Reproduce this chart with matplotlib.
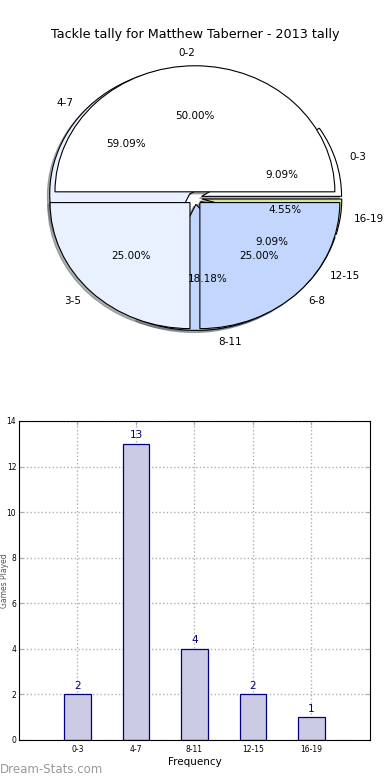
import numpy as np
import matplotlib
matplotlib.use('Agg')
import matplotlib.pyplot as plt

# data
pie_a_labels = ['0-2', '3-5', '6-8']
pie_a_values = [2, 1, 1]
pie_b_labels = ['0-3', '4-7', '8-11', '12-15', '16-19']
pie_b_values = [2, 13, 4, 2, 1]

bar_labels = ['0-3', '4-7', '8-11', '12-15', '16-19']
bar_values = [2, 13, 4, 2, 1]

pie_a_colors = ['#ffffff', '#e9f0ff', '#c3d7fe']
pie_b_colors = ['#ffffff', '#e9f0ff', '#c3d7fe', '#c3d7fe', '#d4e49c']

fig = plt.figure(figsize=(3.9, 7.8), dpi=100)

# pie part (two pies on the same axes, not equal aspect)
ax1 = fig.add_axes([0.0513, 0.544, 0.897, 0.404])
wedge_kw = dict(edgecolor='black', linewidth=0.8)
shadow_kw = dict(ox=-0.012, oy=-0.012, shade=0.6)
ax1.pie(pie_b_values, labels=pie_b_labels, colors=pie_b_colors,
        explode=[0.05] * len(pie_b_values), autopct='%1.2f%%', shadow=shadow_kw,
        wedgeprops=wedge_kw, textprops=dict(fontsize=7.5))
ax1.pie(pie_a_values, labels=pie_a_labels, colors=pie_a_colors,
        explode=[0.05] * len(pie_a_values), autopct='%1.2f%%', shadow=shadow_kw,
        wedgeprops=wedge_kw, textprops=dict(fontsize=7.5))
ax1.set_aspect('auto')
ax1.set_xlim(-1.25, 1.25)
ax1.set_ylim(-1.25, 1.25)
ax1.set_title('Tackle tally for Matthew Taberner - 2013 tally', fontsize=9.2, pad=1)

# bar part
ax2 = fig.add_axes([0.0487, 0.0513, 0.9, 0.409])
x = np.arange(1, len(bar_values) + 1)
bars = ax2.bar(x, bar_values, width=0.45, color='#cbcce3', edgecolor='#000080',
               linewidth=0.9, zorder=2)
for xi, v in zip(x, bar_values):
    ax2.text(xi, v + 0.15, str(v), ha='center', va='bottom', color='#000080', fontsize=7.5)
ax2.set_xlim(0, 6)
ax2.set_ylim(0, 14)
ax2.set_xticks(x)
ax2.set_xticklabels(bar_labels)
ax2.set_yticks(range(0, 15, 2))
ax2.tick_params(labelsize=5.5, direction='in', top=True, right=True, length=3, color='#aaaaaa')
ax2.tick_params(axis='y', pad=2)
ax2.grid(True, linestyle=':', color='#b0b0b0', linewidth=1, zorder=0)
ax2.set_xlabel('Frequency', fontsize=7.5, labelpad=2)
ax2.set_ylabel('Games Played', fontsize=5.5, color='#555555')
ax2.yaxis.set_label_coords(-0.029, 0.5)

fig.text(0.0, 0.005, 'Dream-Stats.com', color='#999999', fontsize=8.5, ha='left', va='bottom')

fig.savefig('out.png', dpi=100)
